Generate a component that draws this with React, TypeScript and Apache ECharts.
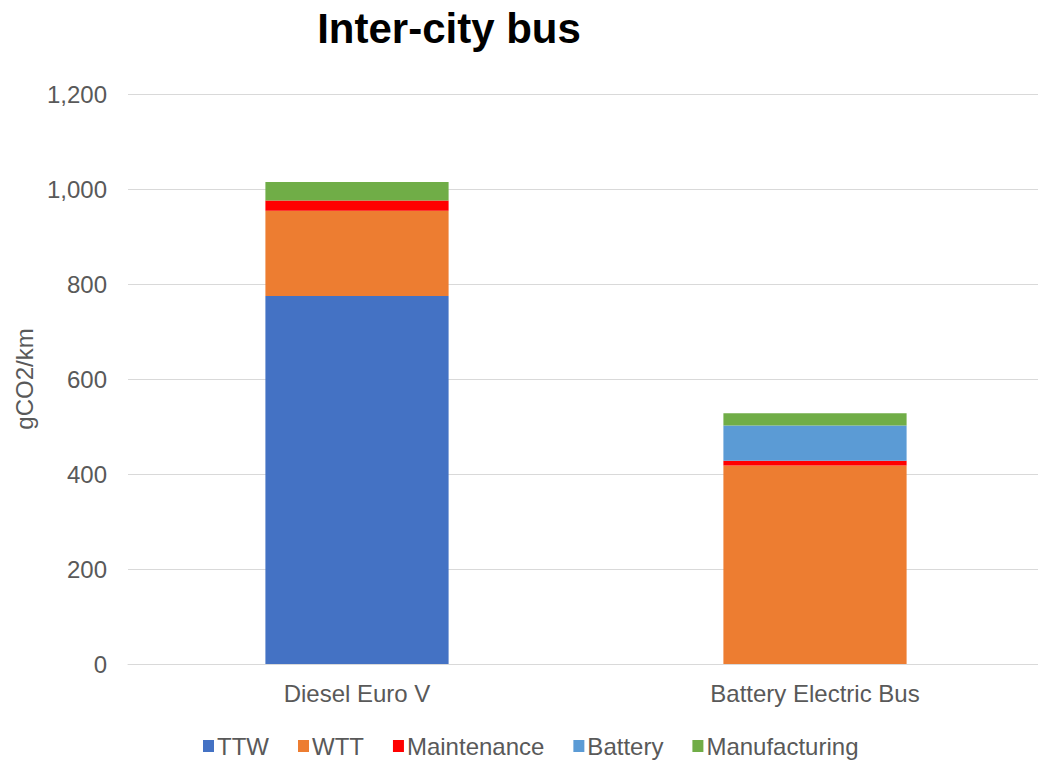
import React, { useEffect, useRef } from "react";
import * as echarts from "echarts";

const categories = ["Diesel Euro V", "Battery Electric Bus"];
const ttw = [775, 0];
const wtt = [179, 418];
const maintenance = [22, 10];
const battery = [0, 74];
const manufacturing = [39, 26];
const yTicks = [0, 200, 400, 600, 800, 1000, 1200];

const FONT = "'Liberation Sans', Arial, sans-serif";
const GREY = "#595959";
const FS = 24;

export default function App() {
  const ref = useRef<HTMLDivElement>(null);

  useEffect(() => {
    if (!ref.current) return;
    const chart = echarts.init(ref.current, undefined, { renderer: "svg" });
    const bar = (name: string, data: number[], color: string) => ({
      name,
      type: "bar",
      stack: "total",
      data,
      barWidth: "40%",
      itemStyle: { color },
      emphasis: { disabled: true },
    });
    chart.setOption({
      animation: false,
      textStyle: { fontFamily: FONT },
      title: {
        text: "Inter-city bus",
        left: 444,
        textAlign: "center",
        top: 2,
        textStyle: { fontFamily: FONT, fontSize: 42, fontWeight: "bold", color: "#000" },
      },
      grid: {
        left: 128,
        top: 94,
        width: 916,
        height: 570,
        containLabel: false,
        outerBoundsMode: "none",
      },
      legend: {
        top: 729,
        left: 198,
        itemWidth: 11,
        itemHeight: 12,
        itemGap: 29,
        icon: "rect",
        textStyle: { fontSize: FS, color: GREY, fontFamily: FONT, padding: [0, 0, 0, -2] },
        data: ["TTW", "WTT", "Maintenance", "Battery", "Manufacturing"],
      },
      xAxis: {
        type: "category",
        data: categories,
        axisLine: { lineStyle: { color: "#d9d9d9", width: 1 } },
        axisTick: { show: false },
        axisLabel: { fontSize: FS, color: GREY, margin: 17, fontFamily: FONT },
      },
      yAxis: {
        type: "value",
        min: yTicks[0],
        max: yTicks[yTicks.length - 1],
        interval: 200,
        name: "gCO2/km",
        nameLocation: "middle",
        nameRotate: 90,
        nameGap: 84,
        nameTextStyle: { fontSize: FS, color: GREY, fontFamily: FONT },
        axisLine: { show: false },
        axisTick: { show: false },
        splitLine: { lineStyle: { color: "#d9d9d9", width: 1 } },
        axisLabel: {
          fontSize: FS,
          color: GREY,
          margin: 21,
          fontFamily: FONT,
          formatter: (v: number) => v.toLocaleString("en-US"),
        },
      },
      series: [
        bar("TTW", ttw, "#4472C4"),
        bar("WTT", wtt, "#ED7D31"),
        bar("Maintenance", maintenance, "#FF0000"),
        bar("Battery", battery, "#5B9BD5"),
        bar("Manufacturing", manufacturing, "#70AD47"),
      ],
    });
    return () => chart.dispose();
  }, []);

  return (
    <div
      ref={ref}
      style={{ position: "fixed", left: 0, top: 0, width: 1050, height: 764, background: "#fff" }}
    />
  );
}
